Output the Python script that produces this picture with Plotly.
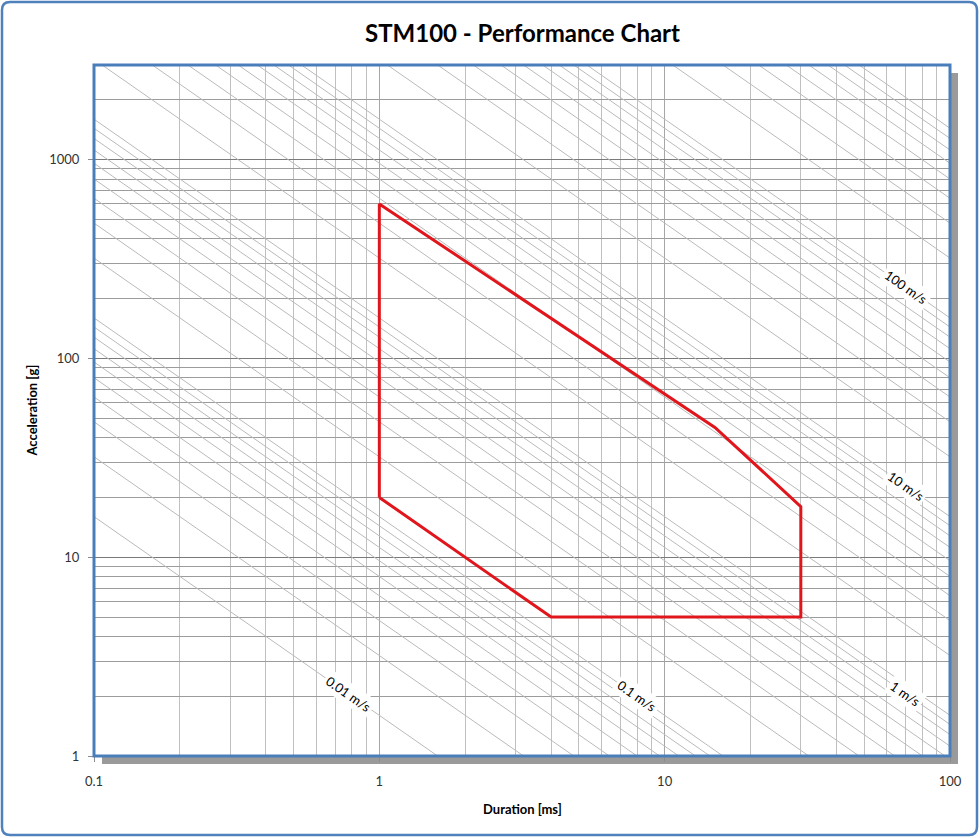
import math
import plotly.graph_objects as go

# ---------------- data ----------------
title_text = "STM100 - Performance Chart"
x_title = "Duration [ms]"
y_title = "Acceleration [g]"

x_ticks = [0.1, 1, 10, 100]
x_tick_text = ["0.1", "1", "10", "100"]
y_ticks = [1, 10, 100, 1000]
y_tick_text = ["1", "10", "100", "1000"]

# velocity-change lines (m/s), half-sine: dv = 2/pi * A * g * T
velocities = [0.01, 0.02, 0.03, 0.04, 0.05, 0.06, 0.07, 0.08, 0.09,
              0.1, 0.2, 0.3, 0.4, 0.5, 0.6, 0.7, 0.8, 0.9,
              1, 2, 3, 4, 5, 6, 7, 8, 9,
              10, 20, 30, 40, 50, 60, 70, 80, 90,
              100, 200, 300, 400, 500, 600, 700, 800, 900]
line_t = [0.1, 100]           # duration span of each velocity line (ms)

# performance envelope
env_t = [1, 1, 15, 30, 30, 4, 1]
env_a = [20, 600, 45, 18, 5, 5, 20]

# velocity labels
label_v = [0.01, 0.1, 1, 10, 100]
label_text = ["0.01 m/s", "0.1 m/s", "1 m/s", "10 m/s", "100 m/s"]
label_t = [0.78, 8, 70, 70, 70]

G = 9.81


def accel(v, t_ms):
    return math.pi * v * 1000.0 / (2.0 * G * t_ms)


# ---------------- layout geometry ----------------
W, H = 980, 838
L, R, T, B = 94, 950, 65, 756
PW, PH = R - L, B - T
Y_TOP = 3000


def px(p):
    return (p - L) / PW


def py(p):
    return (B - p) / PH


FONT = "Lato, Carlito, Calibri, 'Open Sans', sans-serif"

fig = go.Figure()

# velocity lines
vx, vy = [], []
for v in velocities:
    for t in line_t:
        vx.append(t)
        vy.append(accel(v, t))
    vx.append(None)
    vy.append(None)
fig.add_trace(go.Scatter(x=vx, y=vy, mode="lines",
                         line=dict(color="#bababa", width=1),
                         hoverinfo="skip", showlegend=False))

# envelope
fig.add_trace(go.Scatter(x=env_t, y=env_a, mode="lines",
                         line=dict(color="#e0161c", width=3),
                         showlegend=False))

x_minor = [m * 10 ** e for e in (-1, 0, 1) for m in range(2, 10)]
y_minor = [m * 10 ** e for e in (0, 1, 2, 3) for m in range(2, 10) if m * 10 ** e <= Y_TOP]

fig.update_xaxes(type="log", range=[-1, 2], tickvals=x_ticks, ticktext=x_tick_text,
                 showgrid=True, gridcolor="#a6a6a6", gridwidth=1,
                 ticks="outside", ticklen=5, tickcolor="#8c8c8c",
                 ticklabelstandoff=8,
                 tickfont=dict(family=FONT, size=13, color="#333333"),
                 minor=dict(tickvals=x_minor, showgrid=True, gridcolor="#c0c0c0", gridwidth=1),
                 zeroline=False, showline=False, fixedrange=True)
fig.update_yaxes(type="log", range=[0, math.log10(Y_TOP)], tickvals=y_ticks, ticktext=y_tick_text,
                 showgrid=True, gridcolor="#7a7a7a", gridwidth=1,
                 ticks="outside", ticklen=5, tickcolor="#8c8c8c",
                 ticklabelstandoff=6,
                 tickfont=dict(family=FONT, size=13, color="#333333"),
                 minor=dict(tickvals=y_minor, showgrid=True, gridcolor="#9c9c9c", gridwidth=1),
                 zeroline=False, showline=False, fixedrange=True)

ann = []
ann.append(dict(text="<b>" + title_text + "</b>", xref="paper", yref="paper",
                x=0.5, y=py(32), xanchor="center", yanchor="middle", showarrow=False,
                font=dict(family=FONT, size=24, color="#000000")))
ann.append(dict(text="<b>" + x_title + "</b>", xref="paper", yref="paper",
                x=0.5, y=py(809), xanchor="center", yanchor="middle", showarrow=False,
                font=dict(family=FONT, size=13, color="#000000")))
ann.append(dict(text="<b>" + y_title + "</b>", xref="paper", yref="paper",
                x=px(31), y=0.5, xanchor="center", yanchor="middle", showarrow=False,
                textangle=-90,
                font=dict(family=FONT, size=13, color="#000000")))

angle = math.degrees(math.atan((PH / math.log10(Y_TOP)) / (PW / 3.0)))
label_shift = [0, 0, -9, 0, 0]
for v, txt, t, s in zip(label_v, label_text, label_t, label_shift):
    ann.append(dict(text=txt, x=math.log10(t), y=math.log10(accel(v, t)),
                    xref="x", yref="y", showarrow=False, textangle=angle,
                    yshift=s, bgcolor="white", borderpad=2,
                    font=dict(family=FONT, size=13, color="#000000")))

# decoration shapes
shapes = []
# shadow
shapes.append(dict(type="rect", xref="paper", yref="paper",
                   x0=px(R), x1=px(R + 8), y0=py(T + 8), y1=py(B + 8),
                   fillcolor="#9a9a9a", line=dict(width=0), layer="below"))
shapes.append(dict(type="rect", xref="paper", yref="paper",
                   x0=px(L + 8), x1=px(R + 8), y0=py(B), y1=py(B + 8),
                   fillcolor="#9a9a9a", line=dict(width=0), layer="below"))
# plot border
shapes.append(dict(type="rect", xref="paper", yref="paper", x0=0, x1=1, y0=0, y1=1,
                   line=dict(color="#4a7ebb", width=3), layer="above"))

# outer rounded border
x0, x1, y0, y1, r = 2, 977, 2, 835, 8


def P(a, b):
    return f"{px(a):.5f},{py(b):.5f}"


path = (f"M {P(x0 + r, y0)} L {P(x1 - r, y0)} Q {P(x1, y0)} {P(x1, y0 + r)} "
        f"L {P(x1, y1 - r)} Q {P(x1, y1)} {P(x1 - r, y1)} "
        f"L {P(x0 + r, y1)} Q {P(x0, y1)} {P(x0, y1 - r)} "
        f"L {P(x0, y0 + r)} Q {P(x0, y0)} {P(x0 + r, y0)} Z")
shapes.append(dict(type="path", xref="paper", yref="paper", path=path,
                   line=dict(color="#4f81bd", width=2.5), layer="above"))

fig.update_layout(width=W, height=H,
                  margin=dict(l=L, r=W - R, t=T, b=H - B, pad=0),
                  paper_bgcolor="white", plot_bgcolor="white",
                  annotations=ann, shapes=shapes, showlegend=False)

fig.write_html("out.html", config={"displayModeBar": False},
               post_script="document.body.style.margin='0';document.body.style.overflow='hidden';")
